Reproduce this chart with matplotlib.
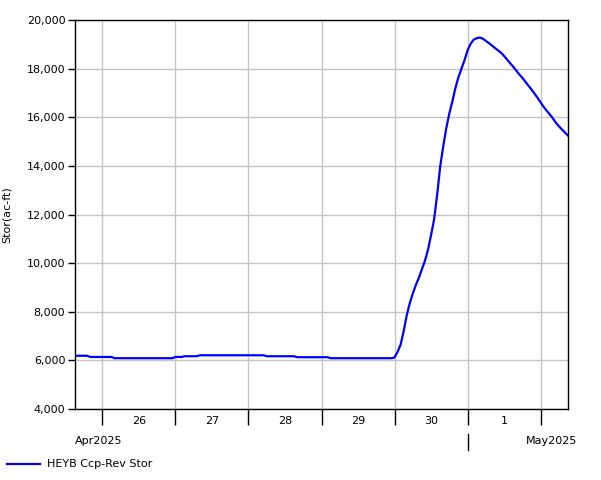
import matplotlib
matplotlib.use('Agg')
import matplotlib.pyplot as plt
import matplotlib.dates as mdates
import matplotlib.transforms as mtransforms
from matplotlib.ticker import FuncFormatter
import numpy as np
import pandas as pd

# hourly storage, starting 2025-04-25 15:00
start = '2025-04-25 15:00'
stor = [
    6190, 6190, 6190, 6190, 6190,
    6140, 6140, 6140, 6140, 6140, 6140, 6140, 6140,
    6090, 6090, 6090, 6090, 6090, 6090, 6090, 6090, 6090, 6090,
    6090, 6090, 6090, 6090, 6090, 6090, 6090, 6090, 6090, 6090,
    6140, 6140, 6140,
    6170, 6170, 6170, 6170, 6170,
    6210, 6210, 6210, 6210, 6210, 6210, 6210, 6210, 6210, 6210, 6210,
    6210, 6210, 6210, 6210, 6210, 6210, 6210, 6210, 6210, 6210, 6210,
    6170, 6170, 6170, 6170, 6170, 6170, 6170, 6170, 6170, 6170,
    6130, 6130, 6130, 6130, 6130, 6130, 6130, 6130, 6130, 6130, 6130,
    6090, 6090, 6090, 6090, 6090, 6090, 6090, 6090, 6090, 6090, 6090,
    6090, 6090, 6090, 6090, 6090, 6090, 6090, 6090, 6090, 6090,
    6120, 6350, 6650, 7200, 7850, 8350, 8750, 9100, 9400, 9750,
    10100, 10550, 11150, 11800, 12800, 13970, 14800, 15550, 16150, 16650,
    17200, 17650, 18000, 18350, 18750, 19020, 19190, 19250, 19280, 19230,
    19140, 19050, 18950, 18850, 18750, 18650, 18520, 18370, 18220, 18080,
    17920, 17760, 17620, 17460, 17300, 17140, 16970, 16800, 16610, 16430,
    16270, 16120, 15960, 15780, 15630, 15500, 15370, 15250,
]
times = pd.date_range(start, periods=len(stor), freq='h')
series_name = 'HEYB Ccp-Rev Stor'

plt.rcParams['font.family'] = 'DejaVu Sans'
plt.rcParams['font.size'] = 8

fig = plt.figure(figsize=(6.01, 4.8), dpi=100)
ax = fig.add_axes([75/601, 71/480, 493/601, 389/480])

ax.plot(times, stor, color='#0000ff', lw=1.6)

ax.set_xlim(times[0], times[-1])
ax.set_ylim(4000, 20000)
ax.set_yticks(np.arange(4000, 20001, 2000))
ax.yaxis.set_major_formatter(FuncFormatter(lambda v, p: f'{int(v):,}'))
ax.set_ylabel('Stor(ac-ft)', labelpad=11)

ax.xaxis.set_major_locator(mdates.DayLocator())
ax.xaxis.set_major_formatter(plt.NullFormatter())
ax.xaxis.set_minor_locator(mdates.HourLocator(byhour=[12]))
ax.xaxis.set_minor_formatter(mdates.DateFormatter('%-d'))
ax.tick_params(axis='x', which='major', length=11.5, width=1, color='black')
ax.tick_params(axis='x', which='minor', length=0, pad=5)
ax.tick_params(axis='y', length=5, width=1, pad=2)

ax.grid(True, which='major', color='#c4c4c4', lw=1)
ax.set_axisbelow(True)
for s in ax.spines.values():
    s.set_linewidth(1)
    s.set_color('black')

# month labels
trans = mtransforms.blended_transform_factory(ax.transData, ax.transAxes)
ax.text(0, -0.083, 'Apr2025', transform=ax.transAxes, ha='left', va='center')
ax.text(1.018, -0.083, 'May2025', transform=ax.transAxes, ha='right', va='center')
may1 = mdates.date2num(pd.Timestamp('2025-05-01'))
ax.plot([may1, may1], [-0.064, -0.105], transform=trans, color='black', lw=1, clip_on=False)

# legend
fig.add_artist(plt.Line2D([7/601, 40/601], [16/480, 16/480], color='#0000ff', lw=1.6))
fig.text(47/601, 16/480, series_name, ha='left', va='center')

fig.savefig('out.png', dpi=100)
